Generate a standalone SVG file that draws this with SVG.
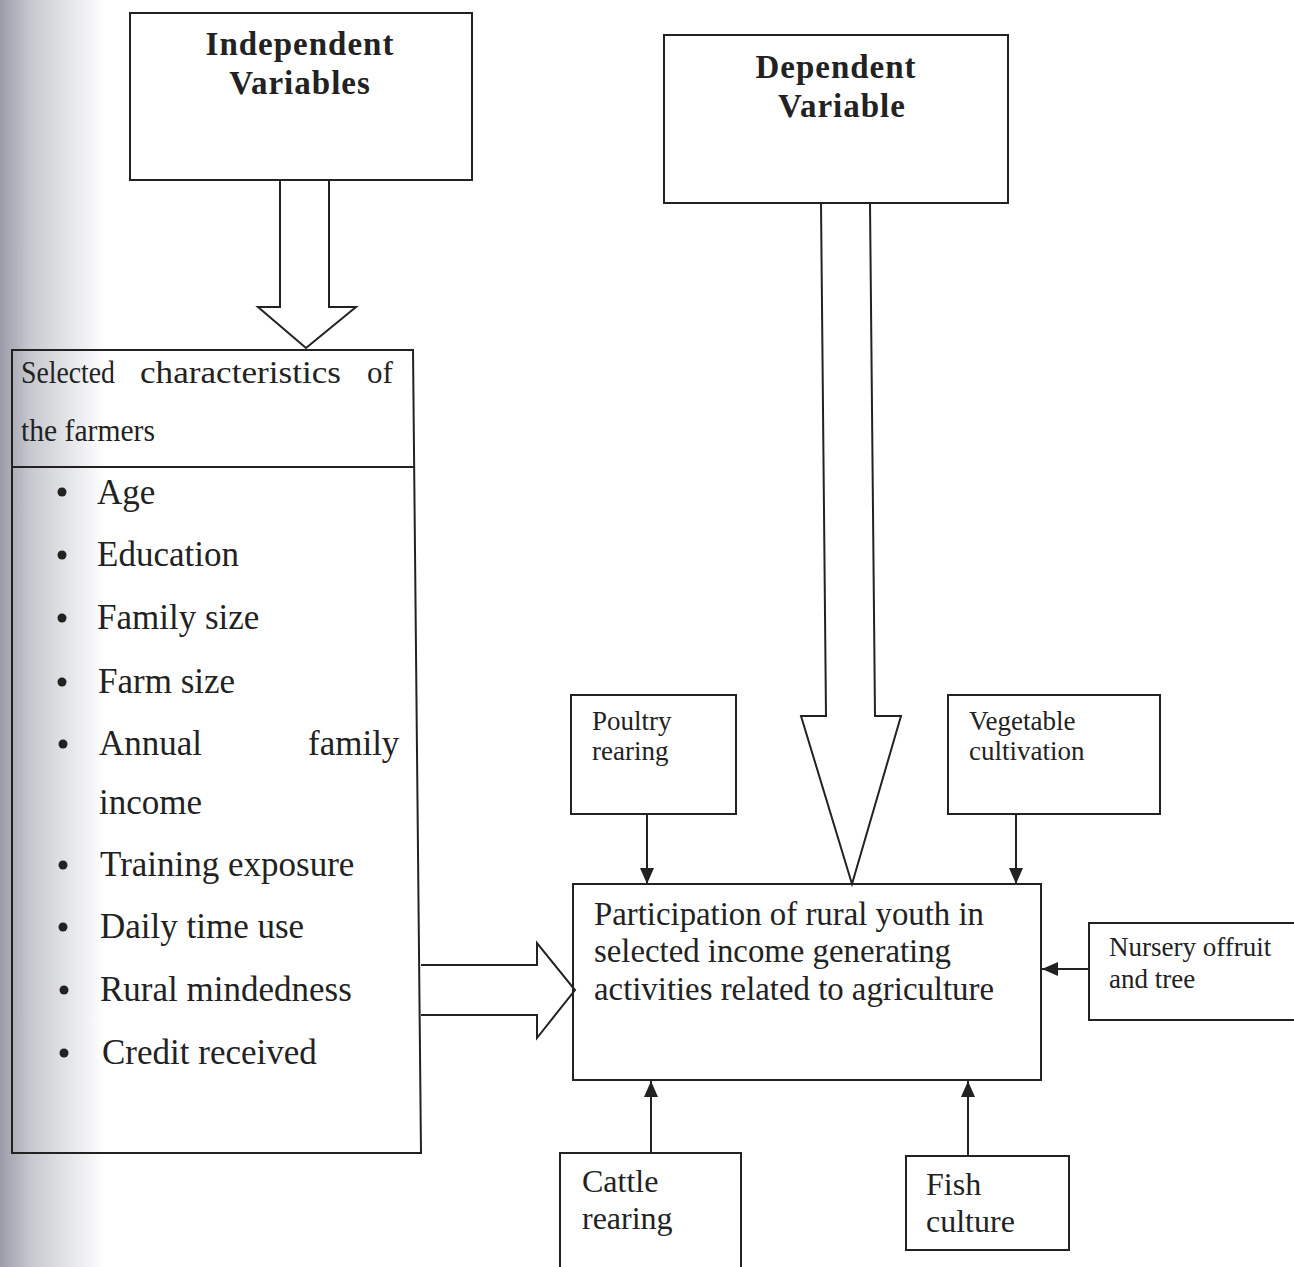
<svg xmlns="http://www.w3.org/2000/svg" width="1294" height="1267" viewBox="0 0 1294 1267">
  <defs>
    <linearGradient id="scan" x1="0" y1="0" x2="1" y2="0">
      <stop offset="0" stop-color="#9a9da9"/>
      <stop offset="0.3" stop-color="#c8cad0"/>
      <stop offset="1" stop-color="#ffffff"/>
    </linearGradient>
    <marker id="ah" viewBox="0 0 16 14" refX="16" refY="7" markerWidth="16" markerHeight="14" markerUnits="userSpaceOnUse" orient="auto">
      <path d="M0 0 L16 7 L0 14 Z" fill="#222"/>
    </marker>
  </defs>
  <style>
    .box { fill: none; stroke: #222; stroke-width: 2; }
    .hollow { fill: #fff; stroke: #222; stroke-width: 2; stroke-linejoin: miter; }
    .conn { fill: none; stroke: #222; stroke-width: 2; }
    .hd { font-family: "Liberation Serif", "Times New Roman", serif; font-weight: bold; font-size: 33px; letter-spacing: 1px; fill: #222; text-anchor: middle; }
    .t { font-family: "Liberation Serif", "Times New Roman", serif; fill: #222; }
    .sel { font-size: 31px; }
    .li { font-size: 35px; }
    .main { font-size: 33px; }
    .sm { font-size: 27px; }
    .md { font-size: 32px; }
  </style>
  <rect x="0" y="0" width="1294" height="1267" fill="#fff"/>
  <rect x="0" y="0" width="105" height="1267" fill="url(#scan)"/>

  <g id="connectors">
    <!-- hollow arrow: Independent -> Selected characteristics -->
    <path class="hollow" d="M280 180 V307 H258 L306 348 L356 307 H329 V180"/>
    <!-- hollow arrow: Dependent -> Participation -->
    <path class="hollow" d="M821 203 L826 716 H801 L852 884 L901 716 H875 L870 203"/>
    <!-- hollow arrow: Selected characteristics -> Participation -->
    <path class="hollow" d="M421 965 H537 V943 L575 990 L537 1038 V1015 H421"/>
    <!-- thin arrows -->
    <line class="conn" x1="647" y1="814" x2="647" y2="884" marker-end="url(#ah)"/>
    <line class="conn" x1="1016" y1="814" x2="1016" y2="884" marker-end="url(#ah)"/>
    <line class="conn" x1="1089" y1="969" x2="1042" y2="969" marker-end="url(#ah)"/>
    <line class="conn" x1="651" y1="1153" x2="651" y2="1081" marker-end="url(#ah)"/>
    <line class="conn" x1="968" y1="1156" x2="968" y2="1081" marker-end="url(#ah)"/>
  </g>

  <g id="independent">
    <rect class="box" x="130" y="13" width="342" height="167"/>
    <text class="hd" x="300" y="55">Independent</text>
    <text class="hd" x="300" y="94">Variables</text>
  </g>

  <g id="dependent">
    <rect class="box" x="664" y="35" width="344" height="168"/>
    <text class="hd" x="836" y="78">Dependent</text>
    <text class="hd" x="842" y="117">Variable</text>
  </g>

  <g id="characteristics">
    <path class="box" d="M12 350 H413 L421 1153 H12 Z"/>
    <line class="box" x1="12" y1="467" x2="414" y2="467"/>
    <text class="t sel" x="21" y="383" textLength="94" lengthAdjust="spacingAndGlyphs">Selected</text>
    <text class="t sel" x="140" y="383" textLength="201" lengthAdjust="spacingAndGlyphs">characteristics</text>
    <text class="t sel" x="367" y="383">of</text>
    <text class="t sel" x="21" y="441" textLength="134" lengthAdjust="spacingAndGlyphs">the farmers</text>
    <g fill="#222">
      <circle cx="62" cy="492" r="4.5"/>
      <circle cx="62" cy="555" r="4.5"/>
      <circle cx="62" cy="618" r="4.5"/>
      <circle cx="62" cy="682" r="4.5"/>
      <circle cx="63" cy="744" r="4.5"/>
      <circle cx="63" cy="865" r="4.5"/>
      <circle cx="63" cy="927" r="4.5"/>
      <circle cx="64" cy="990" r="4.5"/>
      <circle cx="64" cy="1053" r="4.5"/>
    </g>
    <text class="t li" x="97" y="504">Age</text>
    <text class="t li" x="97" y="566">Education</text>
    <text class="t li" x="97" y="629">Family size</text>
    <text class="t li" x="98" y="693">Farm size</text>
    <text class="t li" x="99" y="755">Annual</text>
    <text class="t li" x="308" y="755">family</text>
    <text class="t li" x="99" y="814">income</text>
    <text class="t li" x="100" y="876">Training exposure</text>
    <text class="t li" x="100" y="938">Daily time use</text>
    <text class="t li" x="100" y="1001">Rural mindedness</text>
    <text class="t li" x="102" y="1064">Credit received</text>
  </g>

  <g id="participation">
    <rect class="box" x="573" y="884" width="468" height="196"/>
    <text class="t main" x="594" y="925" textLength="390" lengthAdjust="spacingAndGlyphs">Participation of rural youth in</text>
    <text class="t main" x="594" y="962" textLength="357" lengthAdjust="spacingAndGlyphs">selected income generating</text>
    <text class="t main" x="594" y="1000" textLength="400" lengthAdjust="spacingAndGlyphs">activities related to agriculture</text>
  </g>

  <g id="poultry">
    <rect class="box" x="571" y="695" width="165" height="119"/>
    <text class="t sm" x="592" y="730">Poultry</text>
    <text class="t sm" x="592" y="760">rearing</text>
  </g>

  <g id="vegetable">
    <rect class="box" x="948" y="695" width="212" height="119"/>
    <text class="t sm" x="969" y="730">Vegetable</text>
    <text class="t sm" x="969" y="760">cultivation</text>
  </g>

  <g id="nursery">
    <path class="box" d="M1296 923 H1089 V1020 H1296"/>
    <text class="t sm" x="1109" y="956">Nursery offruit</text>
    <text class="t sm" x="1109" y="988">and tree</text>
  </g>

  <g id="cattle">
    <path class="box" d="M560 1270 V1153 H741 V1270"/>
    <text class="t md" x="582" y="1192">Cattle</text>
    <text class="t md" x="582" y="1229">rearing</text>
  </g>

  <g id="fish">
    <rect class="box" x="906" y="1156" width="163" height="94"/>
    <text class="t md" x="926" y="1195">Fish</text>
    <text class="t md" x="926" y="1232">culture</text>
  </g>
</svg>
